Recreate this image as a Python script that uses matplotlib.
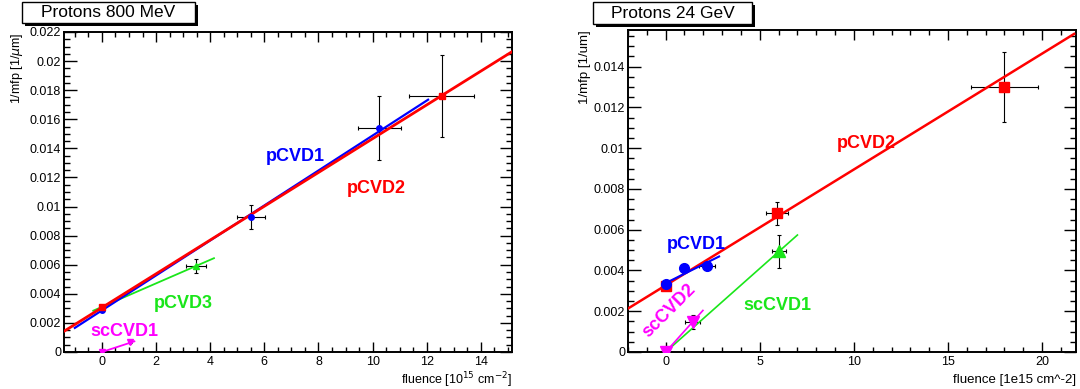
### Import ###

import numpy as np
import matplotlib
matplotlib.use("Agg")
import matplotlib.pyplot as plt
from matplotlib.patches import Rectangle
from matplotlib.ticker import MultipleLocator, FuncFormatter

plt.rcParams['font.family'] = ['Liberation Sans', 'DejaVu Sans']

### Data : Protons 800 MeV ###

# (fluence [1e15 cm^-2], 1/mfp [1/um], x error, y error)
p800_pcvd1_x = [0.0, 5.5, 10.25]
p800_pcvd1_y = [0.0029, 0.0093, 0.0154]
p800_pcvd1_xerr = [0.0, 0.52, 0.8]
p800_pcvd1_yerr = [0.0001, 0.00083, 0.0022]
p800_pcvd1_fit = (0.00286, 0.001202)      # intercept, slope
p800_pcvd1_range = (-1.0, 12.05)

p800_pcvd2_x = [0.0, 12.55]
p800_pcvd2_y = [0.0031, 0.0176]
p800_pcvd2_xerr = [0.0, 1.2]
p800_pcvd2_yerr = [0.0001, 0.0028]
p800_pcvd2_fit = (0.00305, 0.0011615)
p800_pcvd2_range = (-1.4, 15.15)

p800_pcvd3_x = [0.0, 3.48]
p800_pcvd3_y = [0.0031, 0.0059]
p800_pcvd3_xerr = [0.0, 0.38]
p800_pcvd3_yerr = [0.0001, 0.0005]
p800_pcvd3_fit = (0.0031, 0.000809)
p800_pcvd3_range = (-0.32, 4.14)

p800_sccvd1_x = [0.0, 1.04]
p800_sccvd1_y = [0.0, 0.00066]
p800_sccvd1_xerr = [0.0, 0.05]
p800_sccvd1_yerr = [0.0, 0.00005]
p800_sccvd1_fit = (0.0, 0.00061)
p800_sccvd1_range = (0.0, 1.2)

### Data : Protons 24 GeV ###

p24_pcvd2_x = [0.0, 5.9, 18.0]
p24_pcvd2_y = [0.00322, 0.0068, 0.0130]
p24_pcvd2_xerr = [0.0, 0.59, 1.8]
p24_pcvd2_yerr = [0.0001, 0.00056, 0.0017]
p24_pcvd2_fit = (0.00327, 0.0005686)
p24_pcvd2_range = (-2.0, 21.7)

p24_pcvd1_x = [0.0, 1.0, 2.2]
p24_pcvd1_y = [0.00335, 0.0041, 0.00423]
p24_pcvd1_xerr = [0.0, 0.0, 0.41]
p24_pcvd1_yerr = [0.0001, 0.0002, 0.00022]
p24_pcvd1_fit = (0.00338, 0.00046)
p24_pcvd1_range = (0.0, 2.84)

p24_sccvd2_x = [0.0, 1.43]
p24_sccvd2_y = [0.0, 0.00147]
p24_sccvd2_xerr = [0.0, 0.38]
p24_sccvd2_yerr = [0.0, 0.00033]
p24_sccvd2_fit = (0.0, 0.00103)
p24_sccvd2_range = (0.0, 1.98)

p24_sccvd1_x = [0.0, 6.04]
p24_sccvd1_y = [0.0, 0.00494]
p24_sccvd1_xerr = [0.0, 0.38]
p24_sccvd1_yerr = [0.0, 0.0008]
p24_sccvd1_fit = (0.0, 0.00082)
p24_sccvd1_range = (0.0, 7.0)

RED = (1, 0, 0)
BLUE = (0, 0, 1)
GREEN = (0.1, 0.9, 0.1)
MAGENTA = (1, 0, 1)

### Fonction definition ###

def draw_series(ax, x, y, xerr, yerr, fit, rng, color, marker, ms, lw):
    """Draw one sample : error bars, points and the linear fit"""
    ax.errorbar(x, y, xerr=xerr, yerr=yerr, fmt='none', ecolor='black',
                elinewidth=0.8, capsize=1.2, capthick=0.8, zorder=2)
    xx = np.array(rng)
    ax.plot(xx, fit[0] + fit[1] * xx, color=color, lw=lw, zorder=3)
    ax.plot(x, y, ls='none', marker=marker, color=color, ms=ms, zorder=4)


def style_axes(ax, xmaj, xmin, ymaj, ymin):
    """ROOT like frame : ticks inside on all four sides"""
    for s in ax.spines.values():
        s.set_linewidth(1.4)
    ax.xaxis.set_major_locator(MultipleLocator(xmaj))
    ax.xaxis.set_minor_locator(MultipleLocator(xmin))
    ax.yaxis.set_major_locator(MultipleLocator(ymaj))
    ax.yaxis.set_minor_locator(MultipleLocator(ymin))
    ax.yaxis.set_major_formatter(FuncFormatter(lambda v, p: '%g' % round(v, 6)))
    ax.xaxis.set_major_formatter(FuncFormatter(lambda v, p: '%g' % round(v, 6)))
    ax.tick_params(axis='both', which='both', direction='in', top=True, right=True,
                   labelsize=9, width=1.0, colors='black')
    ax.tick_params(axis='x', which='major', length=7, pad=3)
    ax.tick_params(axis='x', which='minor', length=3.5)
    ax.tick_params(axis='y', which='major', length=9, pad=2)
    ax.tick_params(axis='y', which='minor', length=4.5)


def title_box(fig, x0, y0, x1, y1, text):
    """Title pave with shadow, coordinates in pixels from top left"""
    W, H = 1080.0, 389.0
    sh = 3
    fig.patches.append(Rectangle((x0 / W + sh / W, 1 - (y1 + sh) / H), (x1 - x0) / W, (y1 - y0) / H,
                                 transform=fig.transFigure, facecolor='black', edgecolor='black', lw=0))
    fig.patches.append(Rectangle((x0 / W, 1 - y1 / H), (x1 - x0) / W, (y1 - y0) / H,
                                 transform=fig.transFigure, facecolor='white', edgecolor='black', lw=1.0))
    fig.text((x0 + x1) / 2 / W, 1 - (y0 + y1) / 2 / H, text, ha='center', va='center', fontsize=12.5)


### Figure ###

fig = plt.figure(figsize=(10.8, 3.89), dpi=100)

ax1 = fig.add_axes([64 / 1080, 1 - 352 / 389, 448 / 1080, 320 / 389])
draw_series(ax1, p800_pcvd3_x, p800_pcvd3_y, p800_pcvd3_xerr, p800_pcvd3_yerr,
            p800_pcvd3_fit, p800_pcvd3_range, GREEN, '^', 4, 1.3)
draw_series(ax1, p800_pcvd1_x, p800_pcvd1_y, p800_pcvd1_xerr, p800_pcvd1_yerr,
            p800_pcvd1_fit, p800_pcvd1_range, BLUE, 'o', 4, 1.6)
draw_series(ax1, p800_pcvd2_x, p800_pcvd2_y, p800_pcvd2_xerr, p800_pcvd2_yerr,
            p800_pcvd2_fit, p800_pcvd2_range, RED, 's', 4, 2.0)
draw_series(ax1, p800_sccvd1_x, p800_sccvd1_y, p800_sccvd1_xerr, p800_sccvd1_yerr,
            p800_sccvd1_fit, p800_sccvd1_range, MAGENTA, 'v', 4, 1.3)
ax1.set_xlim(-1.4, 15.15)
ax1.set_ylim(0, 0.022)
style_axes(ax1, 2, 0.5, 0.002, 0.0005)
lab = dict(fontsize=13, fontweight='bold', ha='center', va='center')
ax1.text(7.13, 0.01343, 'pCVD1', color=BLUE, **lab)
ax1.text(10.14, 0.01127, 'pCVD2', color=RED, **lab)
ax1.text(3.0, 0.00336, 'pCVD3', color=GREEN, **lab)
ax1.text(0.82, 0.00142, 'scCVD1', color=MAGENTA, **lab)
ax1.text(1.0, -0.0875, 'fluence [10$^{15}$ cm$^{-2}$]', transform=ax1.transAxes,
         ha='right', va='center', fontsize=9)
ax1.text(-0.105, 1.0, '1/mfp [1/$\\mu$m]', transform=ax1.transAxes, rotation=90,
         ha='center', va='top', fontsize=9)

ax2 = fig.add_axes([628 / 1080, 1 - 352 / 389, 448 / 1080, 322 / 389])
draw_series(ax2, p24_sccvd1_x, p24_sccvd1_y, p24_sccvd1_xerr, p24_sccvd1_yerr,
            p24_sccvd1_fit, p24_sccvd1_range, GREEN, '^', 8, 1.2)
draw_series(ax2, p24_sccvd2_x, p24_sccvd2_y, p24_sccvd2_xerr, p24_sccvd2_yerr,
            p24_sccvd2_fit, p24_sccvd2_range, MAGENTA, 'v', 8, 1.2)
draw_series(ax2, p24_pcvd2_x, p24_pcvd2_y, p24_pcvd2_xerr, p24_pcvd2_yerr,
            p24_pcvd2_fit, p24_pcvd2_range, RED, 's', 7, 1.8)
draw_series(ax2, p24_pcvd1_x, p24_pcvd1_y, p24_pcvd1_xerr, p24_pcvd1_yerr,
            p24_pcvd1_fit, p24_pcvd1_range, BLUE, 'o', 7, 1.5)
ax2.set_xlim(-2.0, 21.8)
ax2.set_ylim(0, 0.0158)
style_axes(ax2, 5, 1, 0.002, 0.0005)
ax2.text(10.67, 0.01022, 'pCVD2', color=RED, **lab)
ax2.text(1.65, 0.00526, 'pCVD1', color=BLUE, **lab)
ax2.text(5.91, 0.00227, 'scCVD1', color=GREEN, **lab)
ax2.text(0.2, 0.0020, 'scCVD2', color=MAGENTA, rotation=45, **lab)
ax2.text(1.0, -0.087, 'fluence [1e15 cm^-2]', transform=ax2.transAxes,
         ha='right', va='center', fontsize=9.5)
ax2.text(-0.097, 1.0, '1/mfp [1/um]', transform=ax2.transAxes, rotation=90,
         ha='center', va='top', fontsize=9.5)

title_box(fig, 22, 2, 195, 23, 'Protons 800 MeV')
title_box(fig, 593, 2, 752, 24, 'Protons 24 GeV')

fig.savefig('out.png', dpi=100)
